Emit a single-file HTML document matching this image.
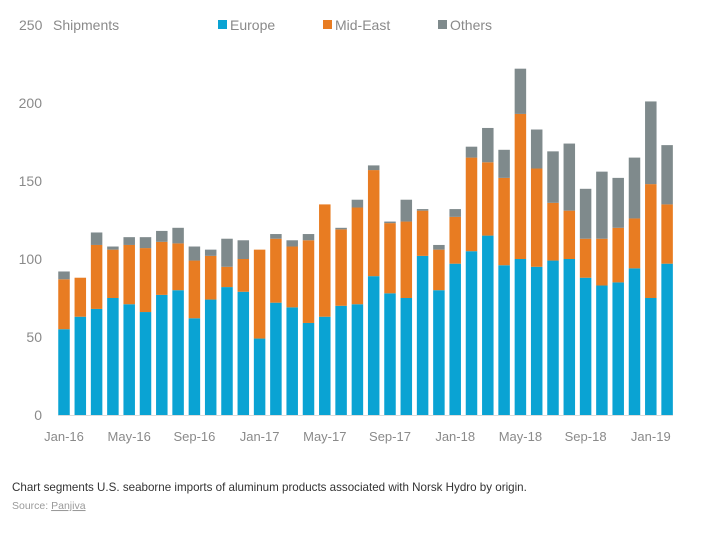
<!DOCTYPE html>
<html><head><meta charset="utf-8"><style>
body{margin:0;background:#fff;width:704px;height:535px;overflow:hidden;font-family:"Liberation Sans",sans-serif}
svg text{font-family:"Liberation Sans",sans-serif}
</style></head><body>
<svg id="chart" width="704" height="535" viewBox="0 0 704 535" xmlns="http://www.w3.org/2000/svg">
<text x="19" y="30" font-size="14" fill="#8a8a8a">250</text>
<text x="53" y="30" font-size="14" fill="#8a8a8a">Shipments</text>
<g>
<rect x="218" y="20" width="9" height="9" fill="#0aa3d3"/>
<text x="230" y="30" font-size="14" fill="#8a8a8a">Europe</text>
<rect x="323" y="20" width="9" height="9" fill="#e87c22"/>
<text x="335" y="30" font-size="14" fill="#8a8a8a">Mid-East</text>
<rect x="438" y="20" width="9" height="9" fill="#7f8a8c"/>
<text x="450" y="30" font-size="14" fill="#8a8a8a">Others</text>
</g>
<g id="bars"></g>
<g id="yticks"></g>
<g id="xticks"></g>
<line x1="58" y1="415.5" x2="673" y2="415.5" stroke="#dcdcdc" stroke-width="1"/>
<text x="12" y="491" font-size="11.6" fill="#333">Chart segments U.S. seaborne imports of aluminum products associated with Norsk Hydro by origin.</text>
<text x="12" y="509" font-size="10.5" fill="#9a9a9a">Source: <tspan text-decoration="underline">Panjiva</tspan></text>
</svg>
<script>
const months = ["Jan-16","Feb-16","Mar-16","Apr-16","May-16","Jun-16","Jul-16","Aug-16","Sep-16","Oct-16","Nov-16","Dec-16","Jan-17","Feb-17","Mar-17","Apr-17","May-17","Jun-17","Jul-17","Aug-17","Sep-17","Oct-17","Nov-17","Dec-17","Jan-18","Feb-18","Mar-18","Apr-18","May-18","Jun-18","Jul-18","Aug-18","Sep-18","Oct-18","Nov-18","Dec-18","Jan-19","Feb-19"];
const europe = [55,63,68,75,71,66,77,80,62,74,82,79,49,72,69,59,63,70,71,89,78,75,102,80,97,105,115,96,100,95,99,100,88,83,85,94,75,97];
const midEast = [32,25,41,31,38,41,34,30,37,28,13,21,57,41,39,53,72,49,62,68,45,49,29,26,30,60,47,56,93,63,37,31,25,30,35,32,73,38];
const others = [5,0,8,2,5,7,7,10,9,4,18,12,0,3,4,4,0,1,5,3,1,14,1,3,5,7,22,18,29,25,33,43,32,43,32,39,53,38];
const yTicks = [0,50,100,150,200];
const xTickLabels = ["Jan-16","May-16","Sep-16","Jan-17","May-17","Sep-17","Jan-18","May-18","Sep-18","Jan-19"];
const NS="http://www.w3.org/2000/svg";
const y0=415, pxPerUnit=1.56, x0=64, step=16.3, bw=11.5;
function yScale(v){return y0-v*pxPerUnit;}
function xScale(i){return x0+i*step;}
const barsG=document.getElementById('bars');
const colors=["#0aa3d3","#e87c22","#7f8a8c"];
const names=["europe","mideast","others"];
months.forEach((m,i)=>{
  const vals=[europe[i],midEast[i],others[i]];
  let base=0;
  vals.forEach((v,k)=>{
    const r=document.createElementNS(NS,'rect');
    r.setAttribute('x',xScale(i)-bw/2);
    r.setAttribute('y',yScale(base+v));
    r.setAttribute('width',bw);
    r.setAttribute('height',v*pxPerUnit);
    r.setAttribute('fill',colors[k]);
    
    
    barsG.appendChild(r);
    base+=v;
  });
});
const yg=document.getElementById('yticks');
yTicks.forEach(t=>{
  const tx=document.createElementNS(NS,'text');
  tx.setAttribute('x',42);tx.setAttribute('y',yScale(t)+5);
  tx.setAttribute('text-anchor','end');tx.setAttribute('font-size','14');tx.setAttribute('fill','#8a8a8a');
  tx.textContent=t;
  
  
  yg.appendChild(tx);
});
const xg=document.getElementById('xticks');
xTickLabels.forEach(l=>{
  const i=months.indexOf(l);
  const tx=document.createElementNS(NS,'text');
  tx.setAttribute('x',xScale(i));tx.setAttribute('y',441);
  tx.setAttribute('text-anchor','middle');tx.setAttribute('font-size','13');tx.setAttribute('fill','#8a8a8a');
  tx.textContent=l;
  
  
  xg.appendChild(tx);
});
</script>
</body></html>
